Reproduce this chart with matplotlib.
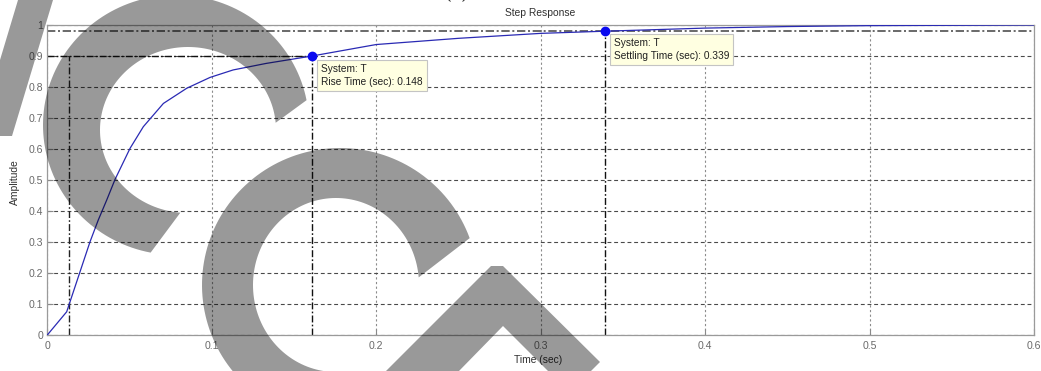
import numpy as np
import matplotlib
matplotlib.use("Agg")
import matplotlib.pyplot as plt
from matplotlib.patches import Polygon

# ---------------- data ----------------
time_s = [0, 0.0118, 0.0199, 0.026, 0.031, 0.0361, 0.0412, 0.0503, 0.0584,
          0.0706, 0.0848, 0.099, 0.113, 0.133, 0.161, 0.2, 0.25, 0.3, 0.339,
          0.4, 0.45, 0.5, 0.55, 0.6]
amplitude = [0, 0.075, 0.204, 0.301, 0.371, 0.435, 0.502, 0.602, 0.672,
             0.747, 0.796, 0.831, 0.855, 0.876, 0.9, 0.937, 0.957, 0.973, 0.98,
             0.99, 0.995, 0.998, 0.999, 1.0]
t10 = 0.013          # 10 % crossing
t90 = 0.161          # 90 % crossing (rise marker)
y90 = 0.9
t_settle = 0.339
y_settle = 0.98
rise_label = "System: T\nRise Time (sec): 0.148"
settle_label = "System: T\nSettling Time (sec): 0.339"
xticks = [0, 0.1, 0.2, 0.3, 0.4, 0.5, 0.6]
xtick_labels = ["0", "0.1", "0.2", "0.3", "0.4", "0.5", "0.6"]
yticks = [0, 0.1, 0.2, 0.3, 0.4, 0.5, 0.6, 0.7, 0.8, 0.9, 1]
ytick_labels = ["0", "0.1", "0.2", "0.3", "0.4", "0.5", "0.6", "0.7", "0.8", "0.9", "1"]

# ---------------- figure ----------------
W, H = 1041, 371
plt.rcParams['font.family'] = ['Liberation Sans', 'DejaVu Sans']
fig = plt.figure(figsize=(W / 100, H / 100), dpi=100)
fig.patch.set_facecolor('white')

def fx(px):
    return px / W

def fy(py):
    return 1 - py / H

ax = fig.add_axes([fx(47.3), fy(335), fx(1034) - fx(47.3), fy(25) - fy(335)])
ax.set_xlim(0, 0.6)
ax.set_ylim(0, 1)

# grid
ax.set_axisbelow(True)
ax.grid(True, axis='y', color='#4a4a4a', linestyle=(0, (3.5, 2.5)), linewidth=0.8)
ax.grid(True, axis='x', color='#8c8c8c', linestyle=(0, (2, 2.2)), linewidth=0.8)

for sp in ax.spines.values():
    sp.set_color('#9a9a9a')
    sp.set_linewidth(0.9)

ax.set_xticks(xticks)
ax.set_xticklabels(xtick_labels)
ax.set_yticks(yticks)
ax.set_yticklabels(ytick_labels)
ax.tick_params(direction='in', length=4, width=0.8, color='#8a8a8a',
               labelcolor='#6a6a6a', labelsize=7.6, pad=3)
ax.tick_params(axis='x', pad=4)

# characteristic lines (dash-dot)
dd = (0, (5, 1.6, 1.2, 1.6))
ax.plot([0, 0.6], [y_settle, y_settle], color='#505050', lw=1.2, linestyle=dd, zorder=2)
ax.plot([0, t90], [y90, y90], color='#111111', lw=1.0, linestyle=dd, zorder=2)
ax.plot([t10, t10], [0, y90], color='#222222', lw=1.0, linestyle=dd, zorder=2)
ax.plot([t90, t90], [0, y90], color='#111111', lw=1.0, linestyle=dd, zorder=2)
ax.plot([t_settle, t_settle], [0, y_settle], color='#111111', lw=1.0, linestyle=dd, zorder=2)

# response
ax.plot(time_s, amplitude, color='#2a2ab4', lw=0.9, zorder=3)
ax.plot([t90, t_settle], [y90, y_settle], linestyle='none', marker='o',
        markersize=6, color='#0a0af0', zorder=4)

box = dict(boxstyle='square,pad=0.42', fc='#ffffe1', ec='#c4c4c4', lw=0.8)
ax.annotate(rise_label, xy=(t90, y90), xytext=(9, -8), textcoords='offset pixels',
            ha='left', va='top', fontsize=7.3, color='#202020', bbox=box,
            linespacing=1.35, zorder=5)
ax.annotate(settle_label, xy=(t_settle, y_settle), xytext=(9, -7), textcoords='offset pixels',
            ha='left', va='top', fontsize=7.3, color='#202020', bbox=box,
            linespacing=1.35, zorder=5)

# titles / labels
fig.text(fx(540.5), fy(12.7), "Step Response", ha='center', va='center',
         fontsize=7.4, color='#303030')
fig.text(fx(538), fy(360), "Time (sec)", ha='center', va='center',
         fontsize=7.4, color='#303030')
fig.text(fx(15), fy(182), "Amplitude", ha='center', va='center', rotation=90,
         fontsize=7.4, color='#303030')
fig.text(fx(457), fy(-1), "(c)", ha='center', va='baseline', fontsize=13,
         color='#303030', family='DejaVu Serif')

# ---------------- watermark (decorative overlay) ----------------
def arc_band(oc, orad, oang, ic, irad, iang, n=120):
    a = np.radians(np.linspace(oang[0], oang[1], n))
    b = np.radians(np.linspace(iang[1], iang[0], n))
    ox = oc[0] + orad[0] * np.cos(a)
    oy = oc[1] - orad[1] * np.sin(a)
    ix = ic[0] + irad[0] * np.cos(b)
    iy = ic[1] - irad[1] * np.sin(b)
    px = np.concatenate([ox, ix])
    py = np.concatenate([oy, iy])
    return np.column_stack([fx(px), fy(py)])

def poly(pts):
    return np.array([[fx(x), fy(y)] for x, y in pts])

shapes = [
    poly([(18, 0), (53, 0), (12, 136), (0, 136), (0, 60)]),
    arc_band((176, 125), (133, 130), (11, 259), (188, 130), (88, 83), (5, 265)),
    arc_band((340, 285), (138, 137), (20, 265), (336, 285), (83, 87), (5, 265)),
    poly([(386, 371), (491, 266), (503, 266), (600, 362), (591, 371),
          (548, 371), (503, 326), (459, 371)]),
]
for s in shapes:
    fig.add_artist(Polygon(s, closed=True, transform=fig.transFigure,
                           facecolor='black', edgecolor='none', alpha=0.40,
                           zorder=100, clip_on=False))

fig.savefig("out.png", dpi=100)
